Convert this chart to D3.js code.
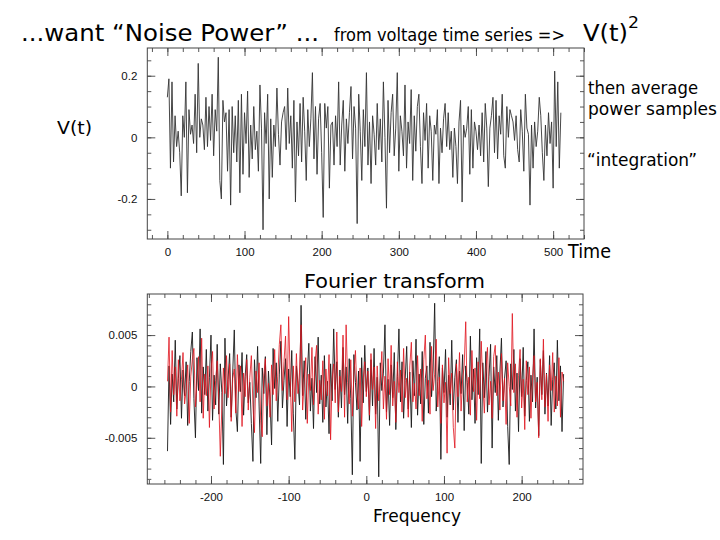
<!DOCTYPE html>
<html>
<head>
<meta charset="utf-8">
<script src="https://cdn.jsdelivr.net/npm/d3@7"></script>
<style>
  html, body { margin: 0; padding: 0; background: #fff; }
  svg { display: block; }
</style>
</head>
<body>
<svg id="chart" width="720" height="540"></svg>
<script>
// ---------------- DATA ----------------
// Voltage time series V(t), one value every 2 samples (t = 0, 2, ..., 510)
const timeStep = 2;
const voltage = [
  0.13, 0.19, -0.10, 0.18, -0.08, 0.07, -0.03, 0.02, -0.05, -0.19, 0.07, 0.00, 0.18, -0.18, 0.09, 0.01,
  0.04, -0.02, 0.14, -0.05, 0.24, 0.00, 0.06, 0.04, -0.04, 0.13, -0.03, 0.10, -0.01, 0.14, -0.06, 0.09,
  0.02, 0.26, -0.14, -0.20, 0.12, 0.05, 0.08, -0.11, 0.09, -0.22, 0.10, -0.05, 0.07, -0.08, 0.12, -0.18,
  0.14, -0.12, 0.08, -0.02, 0.15, -0.13, 0.04, -0.07, 0.10, -0.04, 0.02, -0.11, 0.17, 0.03, -0.30, 0.08,
  -0.02, 0.14, -0.20, 0.06, -0.13, 0.04, -0.03, 0.16, 0.01, -0.09, 0.05, 0.08, 0.10, -0.04, 0.16, -0.02,
  0.07, -0.10, 0.12, -0.21, 0.05, -0.06, 0.11, -0.08, 0.13, 0.02, -0.14, 0.09, -0.03, 0.06, 0.21, -0.07,
  0.10, -0.12, 0.06, 0.11, -0.05, -0.26, 0.11, 0.03, 0.10, -0.165, 0.04, 0.05, -0.09, 0.07, -0.03, 0.18,
  -0.09, 0.04, 0.12, -0.11, 0.06, -0.02, 0.08, 0.165, -0.07, 0.10, 0.03, -0.28, 0.14, 0.02, -0.14, 0.09,
  -0.03, 0.21, -0.09, 0.05, -0.15, 0.07, 0.01, -0.09, 0.11, -0.04, 0.06, -0.08, 0.18, 0.00, -0.23, 0.12,
  -0.05, 0.08, 0.14, -0.06, 0.03, 0.21, -0.11, 0.07, 0.02, -0.06, 0.17, -0.10, 0.05, -0.02, 0.155, -0.14,
  0.07, -0.045, 0.10, 0.14, -0.03, -0.15, 0.08, -0.01, 0.11, -0.10, 0.07, 0.02, -0.14, 0.04, 0.01, 0.09,
  -0.15, 0.03, -0.05, 0.06, 0.11, -0.03, 0.08, -0.04, 0.02, -0.13, 0.03, -0.03, -0.15, 0.05, 0.12, -0.21,
  0.04, 0.00, 0.03, 0.10, -0.12, 0.09, -0.10, 0.05, 0.02, -0.04, 0.04, -0.06, 0.08, -0.08, 0.11, 0.03,
  -0.16, 0.03, 0.07, 0.13, -0.05, 0.12, -0.07, 0.07, 0.01, 0.14, -0.06, -0.10, 0.10, 0.00, 0.09, 0.07,
  0.05, -0.01, 0.07, -0.04, -0.08, 0.09, 0.02, -0.11, 0.14, 0.03, 0.01, -0.22, 0.04, -0.10, 0.05, -0.03,
  0.02, 0.13, 0.07, -0.05, -0.14, 0.04, -0.06, 0.08, -0.02, 0.05, -0.165, 0.215, -0.03, 0.18, -0.10, 0.08
];

// Fourier transform (units of 1e-3), one value every 2 frequency bins (f = -256, -254, ..., 254)
const freqStart = -256;
const freqStep = 2;
const ftBlack = [
  -6.3, 2.0, -3.7, 1.2, -1.5, 4.5, -2.2, 0.8, 3.0, -3.1, 1.6, -0.9, 2.4, -3.8, 0.5, 3.4,
  5.3, -1.2, -5.0, 2.8, -0.4, 5.6, -2.6, 1.9, -0.8, 3.6, -2.4, 0.9, 5.0, -3.3, 1.1, -1.8,
  4.1, -2.7, 2.2, -0.6, -7.6, 4.7, -1.9, 0.7, 3.2, -3.0, 1.4, 5.5, -2.2, -4.4, 2.1, -0.5,
  3.3, -2.8, 1.0, 3.1, -1.6, 0.4, -3.6, -7.3, 2.6, -1.1, 3.9, -2.0, -7.5, 1.8, -0.7, 2.9,
  -4.7, 1.5, -1.3, -5.7, 3.7, -0.2, 2.3, -3.4, 1.2, 4.4, -2.1, 0.6, 2.7, -3.9, 1.7, -1.0,
  3.5, -2.6, -7.1, 2.0, 0.3, -1.8, 7.9, -0.9, 2.5, -3.2, 1.3, 4.2, -2.4, 0.8, -4.1, 2.9,
  -0.6, 4.8, -1.7, 1.1, -3.5, 3.0, -2.0, 0.5, -4.6, 2.2, -1.4, 5.6, -0.3, 2.4, -3.0, 1.6,
  -2.1, 3.8, -0.8, 1.9, -3.6, 2.7, -1.2, -8.6, 3.1, 0.4, -2.3, 1.5, -7.3, 2.8, -1.6, 4.0,
  -0.5, 1.8, -3.3, 2.6, -1.9, 3.7, -2.7, 0.9, -8.8, 2.3, -0.4, 1.3, 6.0, -2.5, 0.7, -3.8,
  2.1, -1.1, 3.3, -4.2, 1.0, 5.6, -1.5, 2.4, -3.1, 0.6, 3.9, -2.2, 1.4, -4.0, 2.5, -0.9,
  4.6, -2.8, 1.2, -1.7, 3.4, -3.7, 0.8, 2.0, -2.6, 4.3, -1.0, 1.6, 8.1, -2.4, 0.5, 2.9,
  -7.1, 1.8, -0.6, 3.6, -3.0, 1.1, -1.8, 4.5, -2.3, 0.9, 2.6, -3.5, 1.5, -0.7, 3.1, -4.3,
  2.0, 0.4, -2.7, 4.9, -1.3, 1.7, -3.6, 2.8, -0.8, 5.6, -7.5, 2.3, -1.1, 3.4, -2.5, 1.0,
  4.1, -6.0, 1.9, -0.6, 3.0, -3.3, 1.4, 4.7, -2.0, 0.8, 2.5, -3.9, -7.6, 2.2, -0.3, 3.6,
  -2.4, 1.3, -4.4, 2.7, -1.0, 3.8, -2.9, 0.6, 2.4, -3.4, 1.1, -1.5, 5.6, -2.1, 0.9, -4.8,
  2.6, -0.8, 3.5, -2.7, 1.3, -1.9, 3.0, -3.8, 0.7, 2.3, -2.2, 4.5, -1.4, 2.0, -4.4, 1.2
];
const ftRed = [
  0.5, 4.8, -2.5, 3.5, -0.8, 1.9, -2.9, 2.6, -1.4, 0.7, 3.3, -1.7, -0.3, 2.1, -3.6, 1.0,
  2.6, 3.7, -2.0, 0.4, 2.9, -1.5, 4.7, -3.1, 1.2, -0.9, 2.0, -4.0, 1.6, 3.4, -2.2, 0.6,
  2.5, -1.2, -6.8, -2.0, 1.8, -0.7, 3.0, -1.1, 2.2, -3.4, 0.8, 1.7, -2.6, 3.1, -0.5, 2.0,
  -3.9, 1.3, -1.0, 2.6, -2.3, 0.9, 3.0, -1.8, -4.5, 1.5, -0.6, 2.3, -3.3, -4.9, 1.1, 2.7,
  -1.9, 0.3, -3.0, 2.1, -0.8, 3.6, -1.4, 1.0, 4.1, 6.0, -0.4, 2.4, 4.9, -1.3, 6.8, 0.9,
  -4.4, 2.0, -1.5, 3.2, -0.7, 1.4, 6.0, -2.3, 0.5, 2.8, -3.6, 1.2, -0.4, 3.8, -1.8, 2.3,
  4.0, -2.7, 0.6, -1.3, 2.5, -3.2, 1.7, -0.9, 3.1, -5.2, 0.8, 2.2, -1.6, 5.3, -2.5, 1.0,
  -0.5, 5.0, -3.0, 6.0, 0.4, -1.7, 2.6, -2.9, 1.1, 3.5, -0.6, -2.2, 1.8, -3.9, 0.7, 2.4,
  -1.0, 1.5, -2.8, 3.2, -0.3, 1.9, -4.1, 2.0, -1.4, 0.6, 3.4, -2.2, 1.0, -3.2, 2.7, -0.8,
  4.0, -1.9, 0.5, -3.5, 2.4, -0.6, 1.6, -2.5, 3.7, -1.1, 0.8, -3.0, 2.0, 4.3, -1.5, 0.3,
  -2.2, 3.0, -0.9, 1.7, -3.4, 2.6, 5.0, -1.2, 0.6, -2.7, 3.9, -0.4, 1.2, 4.6, -2.0, 0.9,
  -3.6, 2.1, -1.6, 0.4, -6.5, 2.8, -0.7, 1.3, -4.0, -6.0, 2.2, -1.0, 3.3, -2.4, 0.7, 2.0,
  6.3, -1.5, 0.9, -2.8, 3.5, -0.5, 1.8, -3.3, 2.4, -1.2, 4.4, 0.2, -2.6, 1.6, 3.8, -1.8,
  0.5, -3.1, 2.9, 4.0, -0.9, 1.4, -2.3, 3.2, -1.4, 0.8, -3.7, 2.3, 0.0, -1.9, 7.1, -0.6,
  2.2, -3.0, 1.1, 3.6, -2.1, 0.7, -4.2, 2.5, -0.8, 1.9, -3.1, 0.9, 3.0, -1.5, 0.4, -5.0,
  2.7, -1.3, 4.6, -2.0, 1.2, -3.4, 2.1, -0.4, 3.3, -2.5, 1.0, -1.9, 2.8, -3.0, 1.4, 0.5
];

// Tick values & labels
const timeTicks = [0, 100, 200, 300, 400, 500];
const voltTicks = [-0.2, 0, 0.2];
const voltTickLabels = ["-0.2", "0", "0.2"];
const freqTicks = [-200, -100, 0, 100, 200];
const ftTicks = [-5, 0, 5];
const ftTickLabels = ["-0.005", "0", "0.005"];

// ---------------- LAYOUT ----------------
const svg = d3.select("#chart");
const TXT = "'DejaVu Sans', Verdana, sans-serif";
const TICKFONT = "'Liberation Sans', Arial, Helvetica, sans-serif";
const frameColor = "#444";

const topBox = { x0: 147.3, x1: 584, y0: 48, y1: 239 };
const botBox = { x0: 147.3, x1: 583, y0: 294, y1: 484 };

const xTime = d3.scaleLinear().domain([-26, 540]).range([topBox.x0, topBox.x1]);
const yVolt = d3.scaleLinear().domain([-0.33, 0.29]).range([topBox.y1, topBox.y0]);
const xFreq = d3.scaleLinear().domain([-282, 279]).range([botBox.x0, botBox.x1]);
const yFt = d3.scaleLinear().domain([-9.5, 9.0]).range([botBox.y1, botBox.y0]);

function drawAxes(box, xs, ys, xMajor, xMinor, yMajor, yMinor, yFmt) {
  const g = svg.append("g");
  const mk = (axis, tx, ty) => {
    const a = g.append("g").attr("transform", `translate(${tx},${ty})`).call(axis);
    a.select(".domain").remove();
    a.selectAll(".tick line").attr("stroke", frameColor).attr("stroke-width", 0.9);
    a.selectAll("text").attr("font-family", TICKFONT).attr("font-size", 11.5).attr("fill", "#111");
    return a;
  };
  mk(d3.axisBottom(xs).tickValues(xMajor).tickSize(-8).tickPadding(9).tickFormat(d => String(d)), 0, box.y1);
  mk(d3.axisBottom(xs).tickValues(xMinor).tickSize(-4).tickFormat(""), 0, box.y1);
  mk(d3.axisTop(xs).tickValues(xMajor).tickSize(-8).tickFormat(""), 0, box.y0);
  mk(d3.axisTop(xs).tickValues(xMinor).tickSize(-4).tickFormat(""), 0, box.y0);
  mk(d3.axisLeft(ys).tickValues(yMajor).tickSize(-8).tickPadding(10).tickFormat(yFmt), box.x0, 0);
  mk(d3.axisLeft(ys).tickValues(yMinor).tickSize(-4).tickFormat(""), box.x0, 0);
  mk(d3.axisRight(ys).tickValues(yMajor).tickSize(-8).tickFormat(""), box.x1, 0);
  mk(d3.axisRight(ys).tickValues(yMinor).tickSize(-4).tickFormat(""), box.x1, 0);
  g.append("rect").attr("x", box.x0).attr("y", box.y0)
    .attr("width", box.x1 - box.x0).attr("height", box.y1 - box.y0)
    .attr("fill", "none").attr("stroke", frameColor).attr("stroke-width", 1);
}

// Top plot
const voltMinor = d3.range(-6, 6).map(k => +(k * 0.05).toFixed(2));
drawAxes(topBox, xTime, yVolt, timeTicks, d3.range(-20, 541, 20), voltTicks, voltMinor,
  d => voltTickLabels[voltTicks.indexOf(d)]);

const lineTime = d3.line().x((d, i) => xTime(i * timeStep)).y(d => yVolt(d));
svg.append("path").datum(voltage).attr("d", lineTime)
  .attr("fill", "none").attr("stroke", "#333").attr("stroke-width", 0.9)
  .attr("stroke-linejoin", "round");

// Bottom plot
drawAxes(botBox, xFreq, yFt, freqTicks, d3.range(-280, 279, 20), ftTicks, d3.range(-9, 9),
  d => ftTickLabels[ftTicks.indexOf(d)]);

const lineFreq = d3.line().x((d, i) => xFreq(freqStart + i * freqStep)).y(d => yFt(d));
svg.append("path").datum(ftBlack).attr("d", lineFreq)
  .attr("fill", "none").attr("stroke", "#1a1a1a").attr("stroke-width", 0.9)
  .attr("stroke-linejoin", "round");
svg.append("path").datum(ftRed).attr("d", lineFreq)
  .attr("fill", "none").attr("stroke", "#e0141e").attr("stroke-width", 0.9)
  .attr("stroke-opacity", 0.9).attr("stroke-linejoin", "round");

// ---------------- TEXT ----------------
function label(txt, x, y, size, width) {
  const t = svg.append("text").attr("x", x).attr("y", y)
    .attr("font-family", TXT).attr("font-size", size).attr("fill", "#000").text(txt);
  if (width) t.attr("textLength", width).attr("lengthAdjust", "spacingAndGlyphs");
  return t;
}
label("...want \u201CNoise Power\u201D ...", 21, 41, 23, 298);
label("from voltage time series =>", 334, 41, 17, 231);
label("V(t)", 583, 41, 23, 45);
label("2", 628, 28, 16, 11);

label("V(t)", 57, 134, 18, 35);
label("then average", 588, 94, 17, 110);
label("power samples", 588, 115, 17, 129);
label("\u201Cintegration\u201D", 587, 166, 17, 110);
label("Time", 568, 258, 19, 43);
label("Fourier transform", 304, 288, 20, 181);
label("Frequency", 373, 522, 18, 88);
</script>
</body>
</html>
